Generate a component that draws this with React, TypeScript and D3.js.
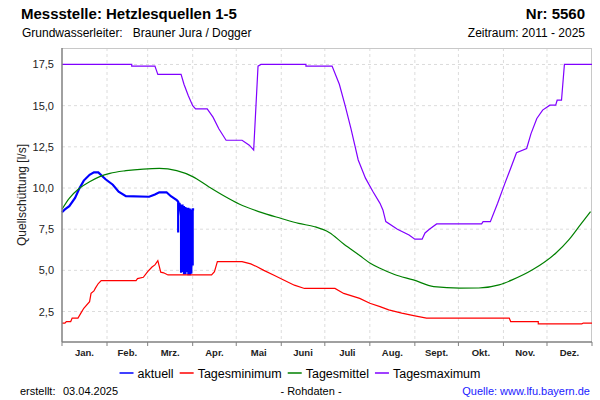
import React, { useEffect, useRef } from "react";
import * as d3 from "d3";

// day of year (0 = 1 Jan) and flow in l/s
const aktuell: [number, number][] = [
  [0, 8.53], [2.8, 8.7], [5.5, 8.9], [9, 9.4], [12.4, 9.98], [15.8, 10.45],
  [19.3, 10.8], [22.7, 10.95], [25.5, 10.95], [30.8, 10.53], [35.1, 10.2],
  [39.9, 9.78], [44.6, 9.51], [60.6, 9.47], [64, 9.6], [67.5, 9.74],
  [72.1, 9.74], [75.8, 9.5], [79, 9.27], [80.1, 9.17],
  [80.6, 7.3], [80.9, 9.1], [81.6, 9.05], [82.0, 8.3], [82.3, 9.0], [82.8, 4.85],
  [83.0, 9.0], [83.3, 5.6], [83.5, 8.95], [83.8, 4.9], [84.0, 8.9], [84.3, 6.2],
  [84.5, 8.9], [84.8, 4.75], [85.0, 8.85], [85.3, 5.2], [85.5, 8.85], [85.8, 4.75],
  [86.0, 8.8], [86.3, 6.5], [86.5, 8.8], [86.8, 4.9], [87.0, 8.8], [87.3, 5.4],
  [87.5, 8.75], [87.8, 4.7], [88.0, 8.75], [88.3, 5.8], [88.5, 8.75], [88.8, 4.7],
  [89.0, 8.7], [89.3, 5.0], [89.5, 8.7], [89.8, 4.8], [90.0, 8.7], [90.4, 5.3],
  [90.7, 8.7], [91.0, 8.7],
];

const tagesminimum: [number, number][] = [
  [0, 1.79], [2.8, 1.79], [3.7, 1.89], [6.2, 1.89], [7.4, 2.1], [11.2, 2.1],
  [13.8, 2.4], [15.8, 2.7], [19.3, 3.1], [20.9, 3.6], [22.7, 3.75], [23.9, 3.92],
  [25.5, 4.2], [27.3, 4.38], [51.4, 4.38], [52.3, 4.5], [56, 4.58], [59.4, 4.92],
  [62, 5.2], [64, 5.33], [66.8, 5.59], [68, 4.89], [70.2, 4.85], [73.2, 4.72],
  [103.1, 4.72], [105.4, 4.92], [107, 5.53], [124.9, 5.53], [130.6, 5.39],
  [134.1, 5.23], [139.8, 5.0], [146.7, 4.7], [153.6, 4.4], [160.5, 4.1],
  [167.4, 3.9], [188, 3.9], [194.9, 3.6], [205.2, 3.3], [212.1, 3.0], [219, 2.8],
  [225.9, 2.6], [234.8, 2.4], [243.1, 2.24], [251.2, 2.1], [308.5, 2.1],
  [309.2, 1.89], [328, 1.89], [328.5, 1.75], [358.8, 1.75], [359.5, 1.8], [365, 1.8],
];

const tagesmittel: [number, number][] = [
  [0, 8.71], [5.5, 9.37], [12.4, 9.98], [19.3, 10.38], [26.2, 10.69], [33.1, 10.89],
  [44.6, 11.05], [56, 11.15], [67.5, 11.19], [79, 11.05], [90.4, 10.69],
  [101.9, 10.08], [112.3, 9.5], [122.6, 9.03], [136.4, 8.55], [151.5, 8.15],
  [163.9, 7.85], [174.2, 7.65], [184.6, 7.3], [194.9, 6.6], [205.2, 5.9],
  [212.1, 5.45], [219, 5.13], [229.3, 4.75], [242.4, 4.42], [256.9, 4.01],
  [274.1, 3.92], [287.9, 3.93], [301.7, 4.12], [310.6, 4.42], [324.4, 5.03],
  [340.7, 6.04], [349.9, 6.85], [356.7, 7.65], [364.3, 8.56],
];

const tagesmaximum: [number, number][] = [
  [0, 17.5], [48, 17.5], [48.6, 17.4], [64.7, 17.4], [66.8, 16.9], [82.4, 16.9],
  [84.7, 16.3], [87.5, 15.6], [90.4, 15.0], [92.8, 14.8], [100.6, 14.8],
  [104, 14.3], [108.8, 13.6], [113, 12.9], [124.7, 12.9], [129.5, 12.6],
  [132.9, 12.3], [135.2, 17.4], [137.5, 17.5], [168, 17.5], [168.7, 17.4],
  [186.6, 17.4], [191.1, 16.3], [195, 15.0], [199.1, 13.6], [204.5, 11.7],
  [209.4, 10.6], [214.2, 9.8], [219, 9.07], [221, 8.67], [223.8, 7.96],
  [231.4, 7.5], [239.7, 7.15], [243.1, 6.89], [248.4, 6.89], [250, 7.27],
  [253.4, 7.5], [258, 7.82], [289, 7.82], [290, 7.96], [295.9, 7.96],
  [300.5, 9.07], [305.1, 10.28], [309.2, 11.2], [313.2, 12.14], [320, 12.4],
  [323, 13.3], [327, 14.22], [331.5, 14.73], [336, 15.03], [340.2, 15.03],
  [341.6, 15.33], [344.1, 15.33], [346.4, 17.5], [365, 17.5],
];

const monthLabels = ["Jan.", "Feb.", "Mrz.", "Apr.", "Mai", "Juni", "Juli", "Aug.", "Sept.", "Okt.", "Nov.", "Dez."];
const yTicks = [2.5, 5, 7.5, 10, 12.5, 15, 17.5];

const series = [
  { name: "aktuell", data: aktuell, color: "#0000ff", width: 2.2, smooth: false },
  { name: "Tagesminimum", data: tagesminimum, color: "#ff0000", width: 1.2, smooth: false },
  { name: "Tagesmittel", data: tagesmittel, color: "#008000", width: 1.2, smooth: true },
  { name: "Tagesmaximum", data: tagesmaximum, color: "#8000ff", width: 1.2, smooth: false },
];

const FONT = "'Liberation Sans', Arial, sans-serif";

const App = () => {
  const ref = useRef<SVGSVGElement>(null);

  useEffect(() => {
    const width = 600;
    const height = 400;
    const margin = { top: 48, right: 8, bottom: 58, left: 62 };

    const svg = d3.select(ref.current);
    svg.selectAll("*").remove();
    svg.attr("font-family", FONT);

    const start = new Date(2025, 0, 1);
    const end = new Date(2026, 0, 1);
    const toDate = (d: number) => new Date(2025, 0, 1 + d);

    const x = d3.scaleTime().domain([start, end]).range([margin.left, width - margin.right]);
    const y = d3.scaleLinear().domain([0.65, 18.5]).range([height - margin.bottom, margin.top]);

    const months = d3.timeMonth.range(start, end);

    //grid
    const grid = svg.append("g").attr("stroke", "#dcdcdc").attr("stroke-dasharray", "3,3");
    grid.selectAll("line.v")
      .data(months.slice(1))
      .enter()
      .append("line")
      .attr("x1", (d) => x(d))
      .attr("x2", (d) => x(d))
      .attr("y1", margin.top)
      .attr("y2", height - margin.bottom);
    grid.selectAll("line.h")
      .data(yTicks)
      .enter()
      .append("line")
      .attr("x1", margin.left)
      .attr("x2", width - margin.right)
      .attr("y1", (d) => y(d))
      .attr("y2", (d) => y(d));

    //frame
    svg.append("line")
      .attr("x1", margin.left).attr("x2", width - margin.right)
      .attr("y1", margin.top + 0.5).attr("y2", margin.top + 0.5)
      .attr("stroke", "#c8c8c8");
    svg.append("line")
      .attr("x1", width - margin.right - 0.5).attr("x2", width - margin.right - 0.5)
      .attr("y1", margin.top).attr("y2", height - margin.bottom)
      .attr("stroke", "#c8c8c8");

    //lines
    const line = d3.line<[number, number]>()
      .x((d) => x(toDate(d[0])))
      .y((d) => y(d[1]));
    const smoothLine = d3.line<[number, number]>()
      .x((d) => x(toDate(d[0])))
      .y((d) => y(d[1]))
      .curve(d3.curveMonotoneX);

    svg.append("g")
      .selectAll("path")
      .data(series)
      .enter()
      .append("path")
      .attr("d", (d) => (d.smooth ? smoothLine(d.data) : line(d.data)))
      .attr("fill", "none")
      .attr("stroke", (d) => d.color)
      .attr("stroke-width", (d) => d.width)
      .attr("stroke-linejoin", "miter");

    //axes
    svg.append("line")
      .attr("x1", margin.left).attr("x2", margin.left)
      .attr("y1", margin.top).attr("y2", height - margin.bottom)
      .attr("stroke", "#808080").attr("stroke-width", 1.5);
    svg.append("line")
      .attr("x1", margin.left).attr("x2", width - margin.right)
      .attr("y1", height - margin.bottom).attr("y2", height - margin.bottom)
      .attr("stroke", "#808080").attr("stroke-width", 1.5);

    const fmt = d3.format(".1f");
    svg.append("g")
      .selectAll("text")
      .data(yTicks)
      .enter()
      .append("text")
      .attr("x", 54)
      .attr("y", (d) => y(d) + 4)
      .attr("text-anchor", "end")
      .attr("font-size", 11)
      .attr("fill", "#222")
      .text((d) => fmt(d).replace(".", ","));

    svg.append("g")
      .selectAll("line")
      .data(months.concat([end]))
      .enter()
      .append("line")
      .attr("x1", (d) => x(d))
      .attr("x2", (d) => x(d))
      .attr("y1", height - margin.bottom)
      .attr("y2", height - margin.bottom + 4)
      .attr("stroke", "#808080");

    svg.append("g")
      .selectAll("text")
      .data(months)
      .enter()
      .append("text")
      .attr("x", (d) => (x(d) + x(d3.timeMonth.offset(d, 1))) / 2)
      .attr("y", height - margin.bottom + 14)
      .attr("text-anchor", "middle")
      .attr("font-size", 9.5)
      .attr("font-weight", "bold")
      .attr("fill", "#222")
      .text((d, i) => monthLabels[i]);

    svg.append("text")
      .attr("transform", `translate(26,${(margin.top + height - margin.bottom) / 2}) rotate(-90)`)
      .attr("text-anchor", "middle")
      .attr("font-size", 12)
      .attr("fill", "#222")
      .text("Quellschüttung [l/s]");

    //titles
    svg.append("text").attr("x", 21).attr("y", 19)
      .attr("font-size", 15).attr("font-weight", "bold").text("Messstelle: Hetzlesquellen 1-5");
    svg.append("text").attr("x", 585).attr("y", 19).attr("text-anchor", "end")
      .attr("font-size", 15).attr("font-weight", "bold").text("Nr: 5560");
    svg.append("text").attr("x", 22).attr("y", 37).attr("font-size", 12)
      .attr("xml:space", "preserve").text("Grundwasserleiter:   Brauner Jura / Dogger");
    svg.append("text").attr("x", 585).attr("y", 37).attr("text-anchor", "end")
      .attr("font-size", 12).text("Zeitraum: 2011 - 2025");

    //legend
    const legend = svg.append("g");
    let lx = 0;
    series.forEach((s) => {
      legend.append("line")
        .attr("x1", lx).attr("x2", lx + 14)
        .attr("y1", 373).attr("y2", 373)
        .attr("stroke", s.color).attr("stroke-width", 1.5);
      const t = legend.append("text")
        .attr("x", lx + 18).attr("y", 377.5)
        .attr("font-size", 12.5)
        .text(s.name);
      const w = (t.node() as SVGTextElement).getComputedTextLength();
      lx += 18 + w + 6;
    });
    legend.attr("transform", `translate(${300 - (lx - 6) / 2},0)`);

    //footer
    svg.append("text").attr("x", 20).attr("y", 395).attr("font-size", 11).text("erstellt:");
    svg.append("text").attr("x", 63).attr("y", 395).attr("font-size", 11).text("03.04.2025");
    svg.append("text").attr("x", 311).attr("y", 395).attr("text-anchor", "middle")
      .attr("font-size", 11).text("- Rohdaten -");
    svg.append("text").attr("x", 590).attr("y", 395).attr("text-anchor", "end")
      .attr("font-size", 11).attr("fill", "#1a1aff").text("Quelle: www.lfu.bayern.de");
  }, []);

  return (
    <svg
      ref={ref}
      width={600}
      height={400}
      style={{ position: "absolute", left: 0, top: 0, background: "#fff" }}
    />
  );
};

export default App;
